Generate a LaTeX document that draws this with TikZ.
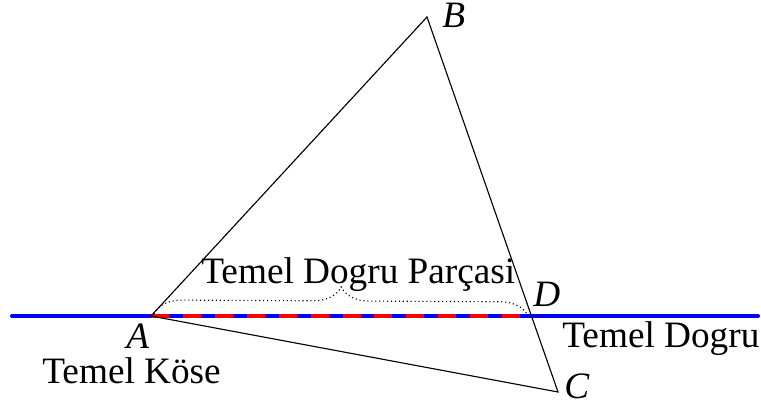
\documentclass[tikz,border=0pt]{standalone}
\usepackage{fontspec}
\setmainfont{Liberation Serif}
\usetikzlibrary{decorations.pathreplacing}
\tikzset{
  side/.style={line width=0.8pt},
  baseline line/.style={blue, line width=2.8pt, line cap=round},
  segment/.style={red, line width=2.8pt, dash pattern=on 12.8pt off 9.9pt},
  lbl/.style={inner sep=0pt, font=\fontsize{26.5}{30}\selectfont},
  pt/.style={inner sep=0pt, text depth=0pt, font=\fontsize{26.5}{30}\selectfont\itshape}
}
\begin{document}
\begin{tikzpicture}[x=0.025cm, y=-0.025cm]
  \useasboundingbox (0,0) rectangle (761,407);
  % points of the triangle
  \coordinate (A) at (151,316);
  \coordinate (B) at (427,17);
  \coordinate (C) at (558,392);
  \coordinate (D) at (531,316);
  \coordinate (L) at (12,316);
  \coordinate (R) at (758,316);
  % base line and segment
  \draw[baseline line] (L) -- (R);
  \draw[segment] (A) -- (D);
  % triangle
  \draw[side] (A) -- (B) -- (C) -- cycle;
  % brace over the segment
  \draw[dotted, line width=0.8pt, decorate, decoration={brace, amplitude=20pt}]
    ([xshift=2]A) ++(0,-2) -- ([xshift=-2]D) ++(0,-2);
  % labels
  \node[pt, anchor=base west] (lA) at (126,348) {A};
  \node[pt, anchor=base west] (lB) at (442,28) {B};
  \node[pt, anchor=base west] (lC) at (564,398) {C};
  \node[pt, anchor=base west] (lD) at (533,306) {D};
  \node[lbl, anchor=base west] (parca) at (201,283) {Temel Dogru Parçasi};
  \node[lbl, anchor=base west] (kose) at (42,383) {Temel Köse};
  \node[lbl, anchor=base west] (dogru) at (562,347) {Temel Dogru};
\end{tikzpicture}
\end{document}
